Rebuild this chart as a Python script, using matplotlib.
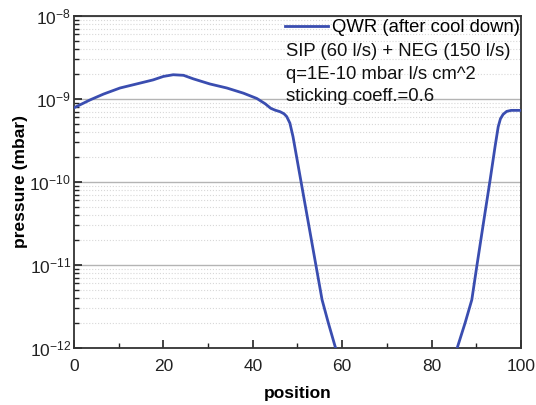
import matplotlib
matplotlib.use("Agg")
import matplotlib.pyplot as plt
import numpy as np
from matplotlib.ticker import FixedLocator, NullFormatter, LogFormatterMathtext

plt.rcParams['font.family'] = ['Liberation Sans', 'DejaVu Sans']
plt.rcParams['mathtext.fontset'] = 'custom'
plt.rcParams['mathtext.rm'] = 'Liberation Sans'
plt.rcParams['mathtext.it'] = 'Liberation Sans'

position = [0, 3.6, 6.6, 10.3, 14.0, 17.7, 20.0, 22.2, 24.5, 26.7, 30.4, 34.2, 37.9,
            40.9, 42.8, 44.0, 45.0, 46.1, 47.0, 47.6, 48.3, 49.0, 55.5, 56.9, 58.4, 59.5,
            85.0, 85.6, 87.5, 89.0, 90.1, 91.6, 93.1, 94.2, 94.9, 95.4, 96.0, 96.8, 97.8, 100]
pressure = [7.8e-10, 9.7e-10, 1.14e-9, 1.35e-9, 1.51e-9, 1.69e-9, 1.86e-9, 1.95e-9,
            1.92e-9, 1.74e-9, 1.51e-9, 1.35e-9, 1.17e-9, 1.01e-9, 8.7e-10, 7.7e-10,
            7.3e-10, 7.0e-10, 6.6e-10, 6.1e-10, 5.1e-10, 3.5e-10, 3.8e-12, 2.0e-12, 1.05e-12,
            7e-13, 7e-13, 9.5e-13, 2.0e-12, 3.8e-12, 9.5e-12, 3.2e-11, 1.06e-10, 2.66e-10,
            4.6e-10, 5.74e-10, 6.5e-10, 7.06e-10, 7.26e-10, 7.26e-10]

x_ticks = [0, 20, 40, 60, 80, 100]
y_ticks = [1e-12, 1e-11, 1e-10, 1e-9, 1e-8]

legend_label = "QWR (after cool down)"
annotations = ["SIP (60 l/s) + NEG (150 l/s)",
               "q=1E-10 mbar l/s cm^2",
               "sticking coeff.=0.6"]

fig = plt.figure(figsize=(5.36, 4.05), dpi=100)
ax = fig.add_axes([0.138, 0.141, 0.834, 0.820])

ax.plot(position, pressure, color='#3a4db0', lw=2.0, label=legend_label, zorder=3,
        solid_joinstyle='round')
ax.set_yscale('log')
ax.set_xlim(0, 100)
ax.set_ylim(1e-12, 1e-8)

y_minor = [k * d for d in y_ticks[:-1] for k in range(2, 10)]
ax.yaxis.set_major_locator(FixedLocator(y_ticks))
ax.yaxis.set_major_formatter(LogFormatterMathtext())
ax.yaxis.set_minor_locator(FixedLocator(y_minor))
ax.yaxis.set_minor_formatter(NullFormatter())
ax.xaxis.set_major_locator(FixedLocator(x_ticks))
ax.xaxis.set_minor_locator(FixedLocator([10, 30, 50, 70, 90]))

ax.grid(True, which='major', axis='y', color='#b4b4b4', lw=1.0, ls='-')
ax.grid(True, which='minor', axis='y', color='#d8d8d8', lw=0.8, ls=':')
ax.set_axisbelow(True)

ax.tick_params(which='both', direction='in', top=False, right=False, labelsize=12.5, colors='#222222')
ax.tick_params(which='major', length=6, width=1.2)
ax.tick_params(which='minor', length=3.5, width=1.0)
ax.tick_params(axis='x', pad=8)
ax.tick_params(axis='y', pad=2)
for s in ax.spines.values():
    s.set_linewidth(1.3)
    s.set_color('#333333')

ax.set_xlabel('position', fontsize=12.5, fontweight='bold', va='center')
ax.xaxis.set_label_coords(0.5, -0.137)
ax.set_ylabel('pressure (mbar)', fontsize=12.5, fontweight='bold', va='center')
ax.yaxis.set_label_coords(-0.12, 0.5)

leg = ax.legend(loc='center left', bbox_to_anchor=(0.472, 0.964), frameon=False,
                fontsize=13.3, handlelength=2.33, handletextpad=0.22, borderaxespad=0,
                borderpad=0)
for i, t in enumerate(annotations):
    ax.text(0.474, 0.892 - i * 0.0675, t, transform=ax.transAxes, fontsize=13.3,
            va='center', ha='left', color='#111111')

fig.savefig('out.png', dpi=100)
